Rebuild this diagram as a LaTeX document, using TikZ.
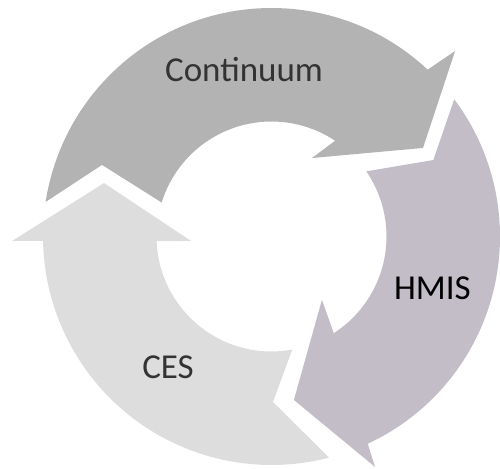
\documentclass[tikz,border=0pt]{standalone}
\usepackage{fontspec}
\setmainfont{Carlito}
\definecolor{contgray}{RGB}{179,179,179}
\definecolor{hmisgray}{RGB}{195,189,200}
\definecolor{cesgray}{RGB}{221,221,221}
\definecolor{labelgray}{RGB}{51,51,51}
\begin{document}
\begin{tikzpicture}[x=1pt,y=1pt]

        \useasboundingbox (0,0) rectangle (500,468);

        \begin{scope}[shift={(271.5,231.5)}]
          \coordinate (c) at (0,0);
          % Continuum arrow
          \fill[contgray] (171.3:228.5) -- (157.1:184) -- (162.8:115)
            arc[start angle=162.8, end angle=56.4, radius=115]
            -- (62.7:88.3) -- (30.3:175.5) -- (45.3:261) -- (46.9:228.5)
            arc[start angle=46.9, end angle=171.3, radius=228.5] -- cycle;
          % HMIS arrow
          \fill[hmisgray] (36.9:228.5) -- (25.3:179) -- (34.5:115)
            arc[start angle=34.5, end angle=-57.2, radius=115]
            -- (-51.5:81) -- (-82.2:165) -- (-65.8:252.7) -- (-65.1:228.5)
            arc[start angle=-65.1, end angle=36.9, radius=228.5] -- cycle;
          % CES arrow
          \fill[cesgray] (-75.4:228.5) -- (-89.5:165.5) -- (-79.6:115)
            arc[start angle=-79.6, end angle=-177.75, radius=115]
            -- (183.2:80.6) -- (162.3:175.8) -- (181:259.5) -- (181.1:228.5)
            arc[start angle=181.1, end angle=284.6, radius=228.5] -- cycle;
        \end{scope}

        \begin{scope}[every node/.style={anchor=base,inner sep=0pt,
            font=\fontsize{35}{42}\selectfont}]
          \node[text=labelgray] (cont) at (244,386) {Continuum};
          \node[text=black]     (hmis) at (432.5,168) {HMIS};
          \node[text=labelgray] (ces)  at (168,89)  {CES};
        \end{scope}

      \end{tikzpicture}
\end{document}
